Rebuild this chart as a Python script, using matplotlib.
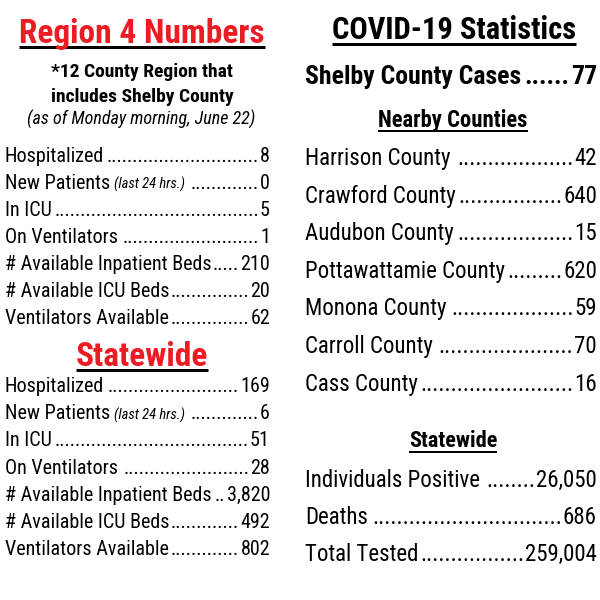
import matplotlib
matplotlib.use("Agg")
import matplotlib.pyplot as plt

# data
region_labels = ["Hospitalized", "New Patients", "In ICU", "On Ventilators",
                 "# Available Inpatient Beds", "# Available ICU Beds", "Ventilators Available"]
region_notes = ["", "(last 24 hrs.)", "", "", "", "", ""]
region_values = ["8", "0", "5", "1", "210", "20", "62"]

state_labels = region_labels
state_notes = region_notes
state_values = ["169", "6", "51", "28", "3,820", "492", "802"]

county_names = ["Harrison County", "Crawford County", "Audubon County", "Pottawattamie County",
                "Monona County", "Carroll County", "Cass County"]
county_cases = ["42", "640", "15", "620", "59", "70", "16"]

iowa_labels = ["Individuals Positive", "Deaths", "Total Tested"]
iowa_values = ["26,050", "686", "259,004"]

shelby_cases = "77"

FAM = ["Roboto Condensed", "Liberation Sans", "DejaVu Sans"]
RED = "#ec1c24"

fig = plt.figure(figsize=(6, 6), dpi=100)
ax = fig.add_axes([0, 0, 1, 1])
ax.set_xlim(0, 600)
ax.set_ylim(600, 0)
ax.axis("off")
renderer = fig.canvas.get_renderer()


def width(t):
    return t.get_window_extent(renderer).width


def title(x, y, s, size, color, ul_y, ul_w=3):
    t = ax.text(x, y, s, ha="center", va="baseline", fontsize=size, fontweight="bold",
                color=color, family=FAM)
    w = width(t)
    ax.plot([x - w / 2, x + w / 2], [ul_y, ul_y], color="black", lw=ul_w * 0.72,
            solid_capstyle="butt")


def row(x0, x1, y, label, value, size, note="", weight="normal"):
    t = ax.text(x0, y, label, ha="left", va="baseline", fontsize=size, family=FAM,
                fontweight=weight)
    end = x0 + width(t)
    if note:
        n = ax.text(end + 4, y, note, ha="left", va="baseline", fontsize=size * 0.72,
                    family=FAM, style="italic")
        end = end + 4 + width(n)
    v = ax.text(x1, y, value, ha="right", va="baseline", fontsize=size, family=FAM,
                fontweight=weight)
    start = x1 - width(v)
    d = ax.text(0, 0, "." * 10, fontsize=size, family=FAM, fontweight=weight)
    dw = width(d) / 10
    d.remove()
    k = int((start - end - 2) / dw)
    if k > 0:
        ax.text(start - 1, y, "." * k, ha="right", va="baseline", fontsize=size,
                family=FAM, fontweight=weight)


# left column
title(142, 43, "Region 4 Numbers", 24, RED, 47)
ax.text(142, 77, "*12 County Region that", ha="center", va="baseline", fontsize=14,
        fontweight="bold", family=FAM)
ax.text(142, 102, "includes Shelby County", ha="center", va="baseline", fontsize=14,
        fontweight="bold", family=FAM)
ax.text(141, 125, "(as of Monday morning, June 22)", ha="center", va="baseline",
        fontsize=13, style="italic", family=FAM)
for i, (lab, note, val) in enumerate(zip(region_labels, region_notes, region_values)):
    row(5, 270, 162 + 27 * i, lab, val, 14.5, note)

title(142, 366, "Statewide", 24, RED, 370)
for i, (lab, note, val) in enumerate(zip(state_labels, state_notes, state_values)):
    row(5, 270, 392 + 27.2 * i, lab, val, 14.5, note)

# right column
title(454, 39, "COVID-19 Statistics", 22, "black", 44)
row(305, 597, 84, "Shelby County Cases", shelby_cases, 18.5, weight="bold")
title(453, 127, "Nearby Counties", 16.3, "black", 131, 2)
for i, (name, val) in enumerate(zip(county_names, county_cases)):
    row(305, 597, 165 + 37.6 * i, name, val, 16.5)

title(453, 447, "Statewide", 16, "black", 452, 2)
for i, (lab, val) in enumerate(zip(iowa_labels, iowa_values)):
    row(305, 597, 487 + 37 * i, lab, val, 16.5)

fig.savefig("out.png", dpi=100, facecolor="white")
